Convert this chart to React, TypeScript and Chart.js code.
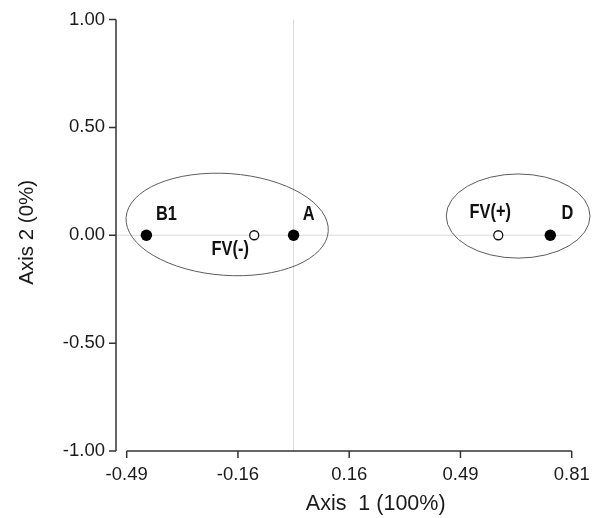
import React, { useEffect, useRef } from "react";
import { Chart, registerables } from "chart.js";

Chart.register(...registerables);

// ---- data ----
const filledLabels = ["B1", "A", "D"];
const filledX = [-0.43, 0.0, 0.75];
const filledY = [0, 0, 0];

const openLabels = ["FV(-)", "FV(+)"];
const openX = [-0.115, 0.598];
const openY = [0, 0];

const xTickValues = [-0.4875, -0.1625, 0.1625, 0.4875, 0.8125];
const xTickLabels = ["-0.49", "-0.16", "0.16", "0.49", "0.81"];
const yTickValues = [-1, -0.5, 0, 0.5, 1];
const yTickLabels = ["-1.00", "-0.50", "0.00", "0.50", "1.00"];

const xTitle = "Axis  1 (100%)";
const yTitle = "Axis 2 (0%)";

// group ellipses in data units
const ellipseCX = [-0.194, 0.656];
const ellipseCY = [0.05, 0.089];
const ellipseRX = [0.296, 0.21];
const ellipseRY = [0.236, 0.195];
const ellipseTiltDeg = [4, 0];

// ---- styling (label offsets in px) ----
const labelOffsets: Record<string, [number, number]> = {
  B1: [20, -21],
  A: [15, -21],
  D: [17, -22],
  "FV(-)": [-24, 14],
  "FV(+)": [-8, -23],
};

const FONT = "'Liberation Sans', Arial, Helvetica, sans-serif";

export default function App() {
  const canvasRef = useRef<HTMLCanvasElement | null>(null);

  useEffect(() => {
    const canvas = canvasRef.current;
    if (!canvas) return;

    const overlay = {
      id: "overlay",
      beforeDatasetsDraw(chart: any) {
        const { ctx, chartArea: ca, scales } = chart;
        const x = scales.x;
        const y = scales.y;
        const axX = ca.left - 10.7;
        ctx.save();
        // reference lines
        ctx.strokeStyle = "#dadada";
        ctx.lineWidth = 1;
        const x0 = x.getPixelForValue(0);
        const y0 = y.getPixelForValue(0);
        ctx.beginPath();
        ctx.moveTo(x0, ca.top);
        ctx.lineTo(x0, ca.bottom);
        ctx.moveTo(axX, y0);
        ctx.lineTo(ca.right, y0);
        ctx.stroke();
        // ellipses
        ctx.strokeStyle = "#5c5c5c";
        ctx.lineWidth = 1;
        for (let i = 0; i < ellipseCX.length; i++) {
          const cx = x.getPixelForValue(ellipseCX[i]);
          const cy = y.getPixelForValue(ellipseCY[i]);
          const rx = Math.abs(x.getPixelForValue(ellipseCX[i] + ellipseRX[i]) - cx);
          const ry = Math.abs(y.getPixelForValue(ellipseCY[i] + ellipseRY[i]) - cy);
          ctx.beginPath();
          ctx.ellipse(cx, cy, rx, ry, (ellipseTiltDeg[i] * Math.PI) / 180, 0, Math.PI * 2);
          ctx.stroke();
        }
        // axes
        ctx.strokeStyle = "#333333";
        ctx.lineWidth = 1.5;
        ctx.beginPath();
        ctx.moveTo(axX, ca.top);
        ctx.lineTo(axX, ca.bottom);
        yTickValues.forEach((v) => {
          const p = y.getPixelForValue(v);
          ctx.moveTo(axX - 7, p);
          ctx.lineTo(axX, p);
        });
        ctx.moveTo(ca.left, ca.bottom);
        ctx.lineTo(ca.right, ca.bottom);
        xTickValues.forEach((v) => {
          const p = x.getPixelForValue(v);
          ctx.moveTo(p, ca.bottom);
          ctx.lineTo(p, ca.bottom + 7);
        });
        ctx.stroke();
        ctx.restore();
      },
      afterDatasetsDraw(chart: any) {
        const { ctx, chartArea: ca, scales } = chart;
        const x = scales.x;
        const y = scales.y;
        ctx.save();
        ctx.fillStyle = "#111111";
        ctx.font = `bold 20.5px ${FONT}`;
        ctx.textAlign = "center";
        ctx.textBaseline = "middle";
        const drawLabel = (name: string, vx: number, vy: number) => {
          const off = labelOffsets[name] || [0, 0];
          const px = x.getPixelForValue(vx) + off[0];
          const py = y.getPixelForValue(vy) + off[1];
          ctx.save();
          ctx.translate(px, py);
          ctx.scale(0.8, 1);
          ctx.fillText(name, 0, 0);
          ctx.restore();
        };
        filledLabels.forEach((n, i) => drawLabel(n, filledX[i], filledY[i]));
        openLabels.forEach((n, i) => drawLabel(n, openX[i], openY[i]));
        // axis titles
        ctx.fillStyle = "#1a1a1a";
        ctx.font = `21.5px ${FONT}`;
        ctx.fillText(xTitle, ca.left + 249, ca.bottom + 53);
        ctx.font = `20.5px ${FONT}`;
        ctx.save();
        ctx.translate(27, (ca.top + ca.bottom) / 2 - 3);
        ctx.rotate(-Math.PI / 2);
        ctx.fillText(yTitle, 0, 0);
        ctx.restore();
        ctx.restore();
      },
    };

    const chart = new Chart(canvas, {
      type: "scatter",
      data: {
        datasets: [
          {
            label: "samples",
            data: filledX.map((v, i) => ({ x: v, y: filledY[i] })),
            pointRadius: 5.7,
            pointBackgroundColor: "#000000",
            pointBorderColor: "#000000",
            pointBorderWidth: 0,
          },
          {
            label: "FV",
            data: openX.map((v, i) => ({ x: v, y: openY[i] })),
            pointRadius: 4.5,
            pointBackgroundColor: "#ffffff",
            pointBorderColor: "#111111",
            pointBorderWidth: 1.3,
          },
        ],
      },
      options: {
        animation: false,
        responsive: true,
        maintainAspectRatio: false,
        events: [],
        layout: { padding: { top: 19.5, right: 26.3, bottom: 0, left: 0 } },
        plugins: {
          legend: { display: false },
          tooltip: { enabled: false },
        },
        scales: {
          x: {
            type: "linear",
            min: xTickValues[0],
            max: xTickValues[xTickValues.length - 1],
            afterBuildTicks: (scale: any) => {
              scale.ticks = xTickValues.map((v) => ({ value: v }));
            },
            afterFit: (scale: any) => {
              scale.height = 67;
              scale.paddingLeft = 0;
              scale.paddingRight = 0;
            },
            grid: { display: false, drawTicks: false },
            border: { display: false },
            ticks: {
              padding: 13,
              maxRotation: 0,
              autoSkip: false,
              color: "#1a1a1a",
              font: { family: FONT, size: 18.5 },
              callback: (_v: any, i: number) => xTickLabels[i],
            },
          },
          y: {
            type: "linear",
            min: yTickValues[0],
            max: yTickValues[yTickValues.length - 1],
            afterBuildTicks: (scale: any) => {
              scale.ticks = yTickValues.map((v) => ({ value: v }));
            },
            afterFit: (scale: any) => {
              scale.width = 126.7;
              scale.paddingTop = 0;
              scale.paddingBottom = 0;
            },
            grid: { display: false, drawTicks: false },
            border: { display: false },
            ticks: {
              padding: 21.7,
              autoSkip: false,
              color: "#1a1a1a",
              font: { family: FONT, size: 18.5 },
              callback: (_v: any, i: number) => yTickLabels[i],
            },
          },
        },
      },
      plugins: [overlay],
    } as any);

    return () => chart.destroy();
  }, []);

  return (
    <div style={{ position: "absolute", left: 0, top: 0, width: 598, height: 518, background: "#ffffff" }}>
      <canvas ref={canvasRef} />
    </div>
  );
}
